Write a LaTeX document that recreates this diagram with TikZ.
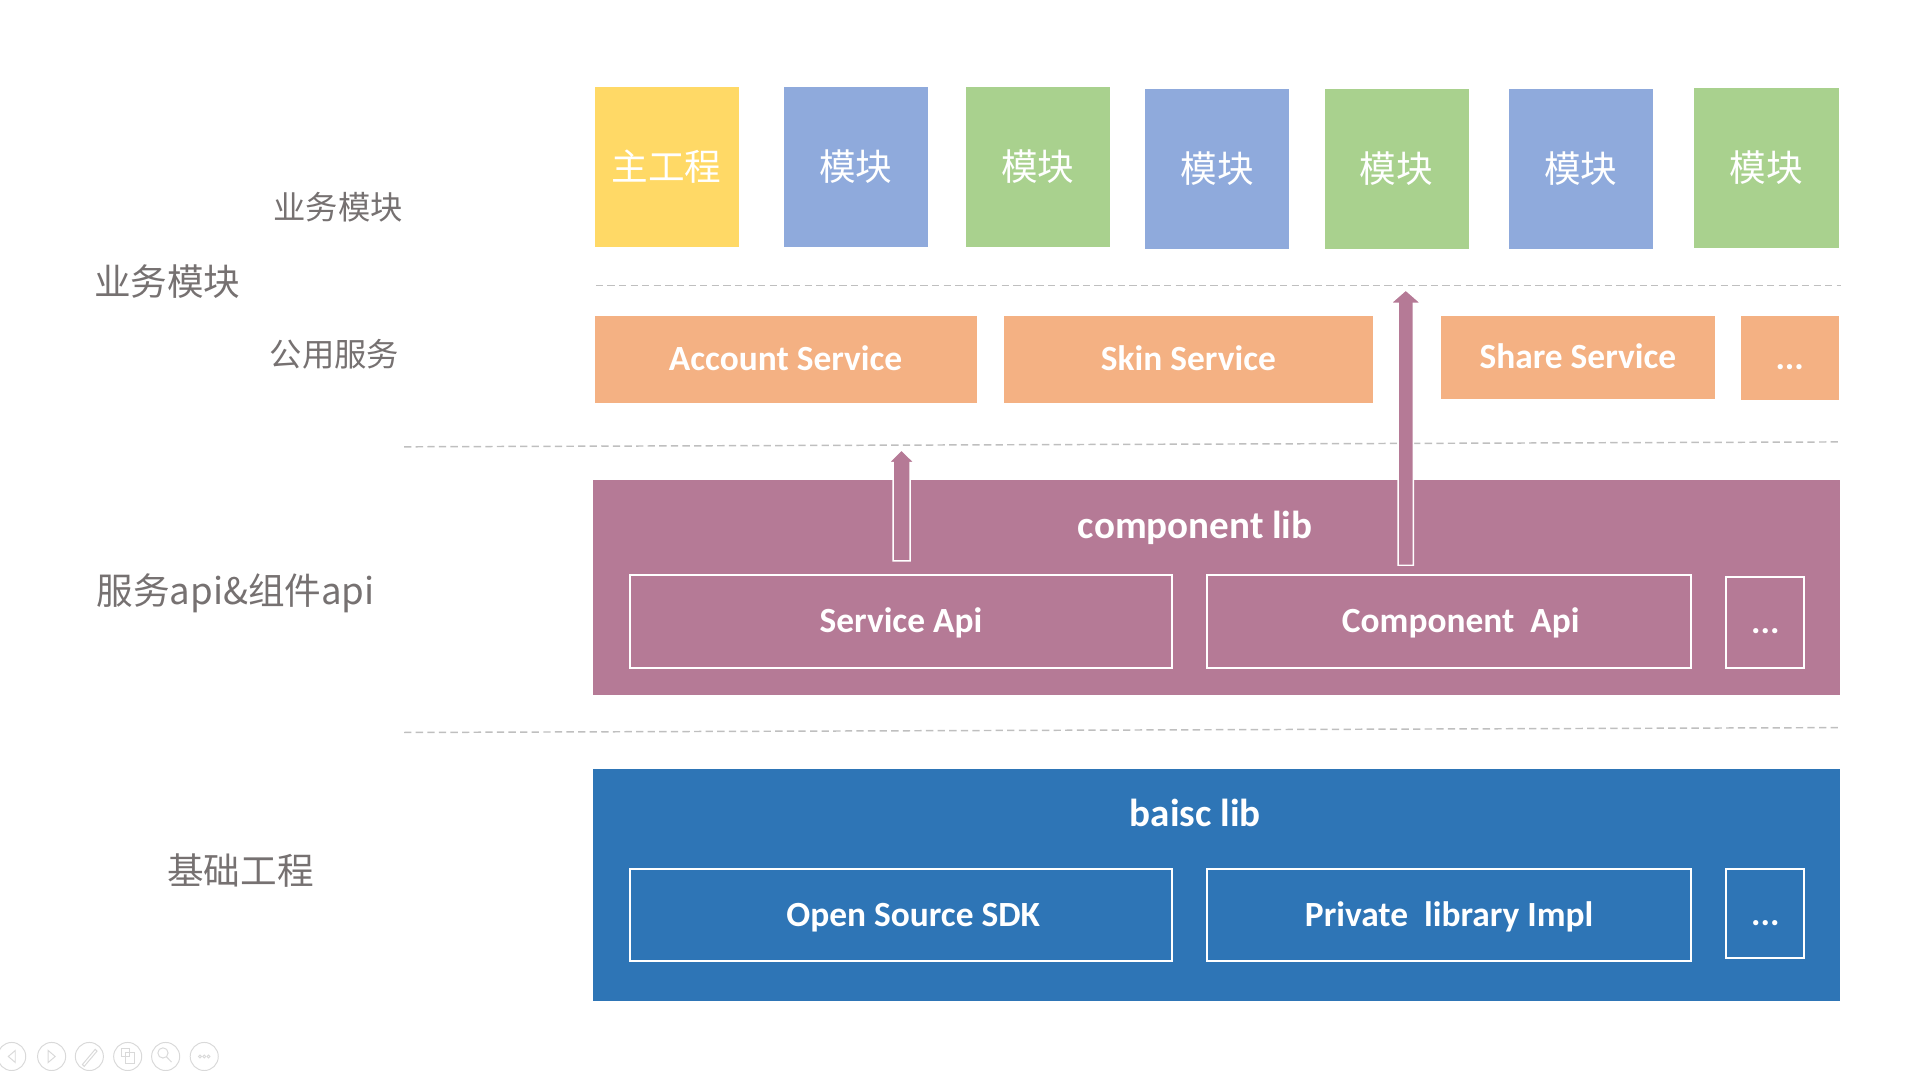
\documentclass[tikz,border=0pt]{standalone}
\usepackage{fontspec}
\setmainfont{Carlito}
\newfontfamily\cjk{Noto Sans CJK SC}
\usepackage{tikz}
\usetikzlibrary{
  positioning,
  calc}
\definecolor{modyellow}{HTML}{FFD966}
\definecolor{modblue}{HTML}{8FAADC}
\definecolor{modgreen}{HTML}{A9D18E}
\definecolor{svcorange}{HTML}{F4B183}
\definecolor{libmauve}{HTML}{B57A96}
\definecolor{libblue}{HTML}{2E75B6}
\definecolor{labelgray}{HTML}{767171}
\definecolor{sepgray}{HTML}{BFBFBF}
\newcommand{\liftarrow}[5]{%start, tip, half shaft, half head, head length
  \draw[liftarr] let \p1=(#1), \p2=(#2) in
    (\x1-#3,\y1) -- (\x1-#3,\y2-#5) -- (\x1-#4,\y2-#5) -- (\x1,\y2)
    -- (\x1+#4,\y2-#5) -- (\x1+#3,\y2-#5) -- (\x1+#3,\y1) -- cycle;
}
\tikzset{
     module/.style={text=white, anchor=north west, inner sep=0pt, outer sep=0pt,
        minimum width=118pt, minimum height=131pt,
        font=\cjk\fontsize{30}{36}\selectfont},
     service/.style={fill=svcorange, text=white, anchor=north west, inner sep=0pt,
        outer sep=0pt, text height=18.5pt, text depth=0pt,
        font=\bfseries\fontsize{29}{34}\selectfont},
     layer/.style={anchor=north west, inner sep=0pt, outer sep=0pt},
     layer title/.style={text=white, inner sep=0pt, text height=20.5pt, text depth=0pt,
        font=\bfseries\fontsize{32}{38}\selectfont},
     part/.style={draw=white, line width=1.6pt, text=white, anchor=north west,
        inner sep=0pt, outer sep=0pt, text height=18.5pt, text depth=0pt,
        font=\bfseries\fontsize{29}{34}\selectfont},
     side label/.style={text=labelgray, font=\cjk\fontsize{30}{36}\selectfont},
     sub label/.style={text=labelgray, font=\cjk\fontsize{26.5}{32}\selectfont},
     separator/.style={draw=sepgray, line width=1.2pt, dash pattern=on 6pt off 3.5pt},
     liftarr/.style={fill=libmauve, draw=white, line width=1.2pt, line join=miter},
     ui icon/.style={draw=black!15, line width=0.8pt}
  }
\begin{document}
\begin{tikzpicture}[x=1pt, y=-1pt]
  \useasboundingbox (0,0) rectangle (1567,877);
  \foreach \n/\mx/\my/\mc/\mt in {1/487/71/modyellow/主工程, 2/642/71/modblue/模块,
      3/791/71/modgreen/模块, 4/938/73/modblue/模块, 5/1085/73/modgreen/模块,
      6/1236/73/modblue/模块, 7/1388/72/modgreen/模块}
    \node[module, fill=\mc] (mod\n) at (\mx,\my) {\mt};
  \node[service, minimum width=313pt, minimum height=71pt] (account) at (487,259) {Account Service};
  \node[service, minimum width=303pt, minimum height=71pt] (skin) at (822,259) {Skin Service};
  \node[service, minimum width=225pt, minimum height=68pt] (share) at (1180,259) {Share Service};
  \node[service, minimum width=80pt, minimum height=69pt] (svcmore) at (1426,259) {...};
%
  \node[layer, fill=libmauve, minimum width=1021pt, minimum height=176pt] (complib) at (486,393) {};
  \node[layer title] (complibname) at (979,431) {component lib};
  \node[part, minimum width=444pt, minimum height=76pt] (serviceapi) at (516,471) {Service Api};
  \node[part, minimum width=396pt, minimum height=76pt] (componentapi) at (989,471) {\hspace*{19pt}Component\ \ Api};
  \node[part, minimum width=64pt, minimum height=74pt] (apimore) at (1414,473) {...};
%
  \node[layer, fill=libblue, minimum width=1021pt, minimum height=190pt] (basiclib) at (486,630) {};
  \node[layer title] (basiclibname) at (979,667) {baisc lib};
  \node[part, minimum width=444pt, minimum height=75pt] (opensdk) at (516,712) {\hspace*{20pt}Open Source SDK};
  \node[part, minimum width=396pt, minimum height=75pt] (privatelib) at (989,712) {Private\ \ library Impl};
  \node[part, minimum width=64pt, minimum height=73pt] (libmore) at (1414,712) {...};
%
  \node[sub label] (bizsub) at (277,170) {业务模块};
  \node[side label] (biz) at (137,231) {业务模块};
  \node[sub label] (common) at (274,290) {公用服务};
  \node[side label] (apis) at (193,486) {服务api\&组件api};
  \node[side label] (base) at (197,713) {基础工程};
%
  \draw[separator] (488,234) -- (1508,234);
  \draw[separator] (331,366) -- (1508,362);
  \draw[separator] (331,600) -- (1508,596);
%
  \coordinate (liftA) at ($(serviceapi.north)+(0.5,-11.5)$);
  \coordinate (liftAtip) at ($(liftA)+(0,-91)$);
  \coordinate (liftB) at (1151.5,463);
  \coordinate (liftBtip) at (1151.5,237.5);
  \liftarrow{liftA}{liftAtip}{7pt}{10.6pt}{10.5pt}
  \liftarrow{liftB}{liftBtip}{6.3pt}{12.6pt}{11pt}
%
\begin{scope}[ui icon]
  \foreach \ix in {9.6,42.3,73.2,104.6,135.7,167.3}
    \draw (\ix,865.4) circle[radius=11.5];
  \draw (12.5,860.5) -- (6.8,865.4) -- (12.5,870.3) -- cycle;
  \draw (39.5,860.5) -- (45.2,865.4) -- (39.5,870.3) -- cycle;
  \draw (67.5,872) -- (78,859.5) -- (79.5,861) -- (69,873.5) -- cycle;
  \draw (99.5,858.5) rectangle (106,865) (103,862) rectangle (110,871);
  \draw (133.5,862.5) circle[radius=4.2] (136.5,865.8) -- (140.5,870);
  \foreach \dx in {-3.5,0,3.5}
    \draw (167.3+\dx,865.4) circle[radius=1.2];
\end{scope}
\end{tikzpicture}
\end{document}
